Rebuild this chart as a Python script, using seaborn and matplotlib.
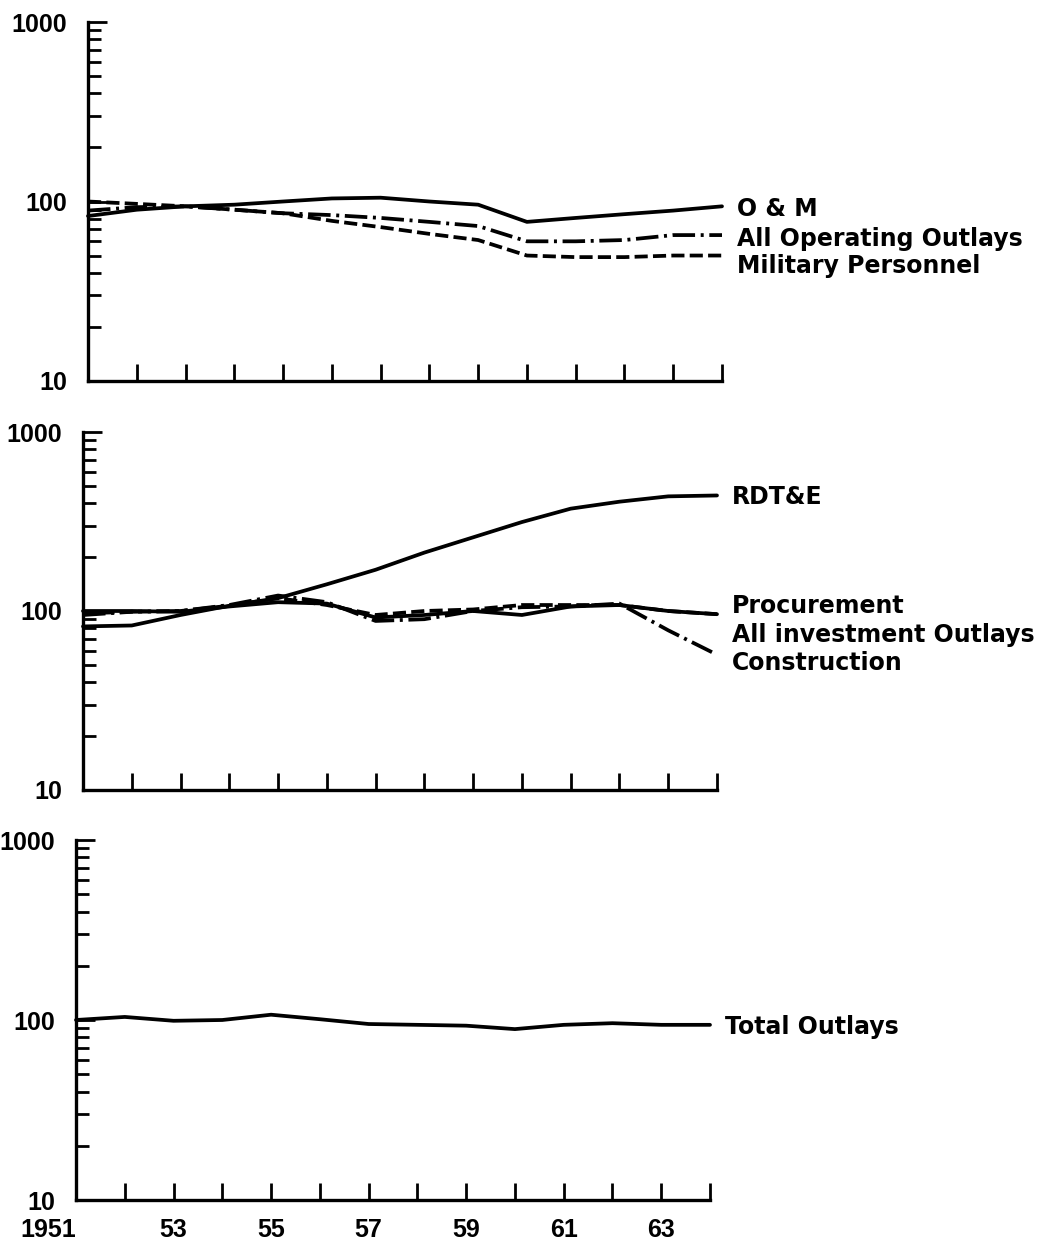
import numpy as np
import pandas as pd
import matplotlib
matplotlib.use('Agg')
import matplotlib.pyplot as plt
import seaborn as sns

# Index values (log scale), fiscal years 1951-1964
years = list(range(1951, 1965))

om = [83, 90, 94, 96, 100, 104, 105, 100, 96, 77, 81, 85, 89, 94]
all_operating = [89, 93, 94, 90, 86, 84, 81, 77, 73, 60, 60, 61, 65, 65]
military_personnel = [100, 97, 94, 90, 86, 78, 72, 66, 61, 50, 49, 49, 50, 50]

rdte = [82, 83, 95, 107, 118, 141, 170, 212, 258, 314, 373, 408, 437, 442]
procurement = [100, 100, 99, 106, 112, 110, 92, 95, 100, 95, 106, 108, 100, 96]
all_investment = [97, 99, 100, 107, 118, 108, 95, 100, 102, 108, 108, 108, 100, 96]
construction = [95, 99, 100, 108, 122, 112, 88, 90, 100, 105, 106, 110, 78, 57]

total_outlays = [100, 104, 99, 100, 107, 101, 95, 94, 93, 89, 94, 96, 94, 94]

df = pd.DataFrame({
    'year': years,
    'O & M': om,
    'All Operating Outlays': all_operating,
    'Military Personnel': military_personnel,
    'RDT&E': rdte,
    'Procurement': procurement,
    'All investment Outlays': all_investment,
    'Construction': construction,
    'Total Outlays': total_outlays,
})

sns.set_style('ticks')
plt.rcParams['font.family'] = ['DejaVu Sans']
NARROW = ['Liberation Sans Narrow', 'Liberation Sans', 'DejaVu Sans']

SOLID = (None, None)
DASHED = (3.5, 1.4)
DASHDOT = (6, 1.5, 0.8, 1.5)

# (column, dash pattern, label y in data units)
panels = [
    [('O & M', SOLID, 91), ('All Operating Outlays', DASHDOT, 62), ('Military Personnel', DASHED, 43.5)],
    [('RDT&E', SOLID, 436), ('Procurement', SOLID, 106), ('All investment Outlays', DASHED, 73),
     ('Construction', DASHDOT, 51)],
    [('Total Outlays', SOLID, 91)],
]

fig = plt.figure(figsize=(10.4, 12.48), dpi=100)
W, H = 1040, 1248
# left edge, top, bottom in pixels for each panel
boxes = [(88, 22, 381), (83, 432, 790), (76, 840, 1200)]
axw = 634

for i, (series, (lx, top, bot)) in enumerate(zip(panels, boxes)):
    ax = fig.add_axes([lx / W, 1 - bot / H, axw / W, (bot - top) / H])
    for col, dash, ly in series:
        sns.lineplot(data=df, x='year', y=col, ax=ax, color='black', linewidth=2.7)
        if dash != SOLID:
            ax.lines[-1].set_dashes(dash)
        ax.text(1964.3, ly, col, fontsize=17, va='center', ha='left',
                fontweight='bold', color='black')
    ax.set_yscale('log')
    ax.set_ylim(10, 1000)
    ax.set_xlim(1951, 1964)
    ax.set_xlabel('')
    ax.set_ylabel('')
    sns.despine(ax=ax)
    for s in ['left', 'bottom']:
        ax.spines[s].set_linewidth(2.4)
        ax.spines[s].set_color('black')
    ax.set_yticks([10, 100, 1000])
    ax.set_yticklabels(['10', '100', '1000'], fontsize=18, fontweight='bold', family=NARROW)
    ax.tick_params(axis='y', which='major', left=True, direction='in', length=14,
                   width=2, pad=15, colors='black')
    ax.tick_params(axis='y', which='minor', left=True, direction='in', length=9, width=2,
                   colors='black')
    ax.set_xticks(years)
    ax.xaxis.set_minor_locator(matplotlib.ticker.NullLocator())
    if i == 2:
        ax.set_xticklabels([('1951' if y == 1951 else str(y)[2:]) if y % 2 == 1 else '' for y in years],
                           fontsize=18, fontweight='bold', family=NARROW)
        ax.get_xticklabels()[0].set_horizontalalignment('right')
    else:
        ax.set_xticklabels([])
    ax.tick_params(axis='x', bottom=True, direction='in', length=12, width=2, pad=13,
                   colors='black')
    ax.patch.set_alpha(0)
    for ln in ax.lines:
        ln.set_clip_on(False)

fig.savefig('out.png', dpi=100, facecolor='white')
